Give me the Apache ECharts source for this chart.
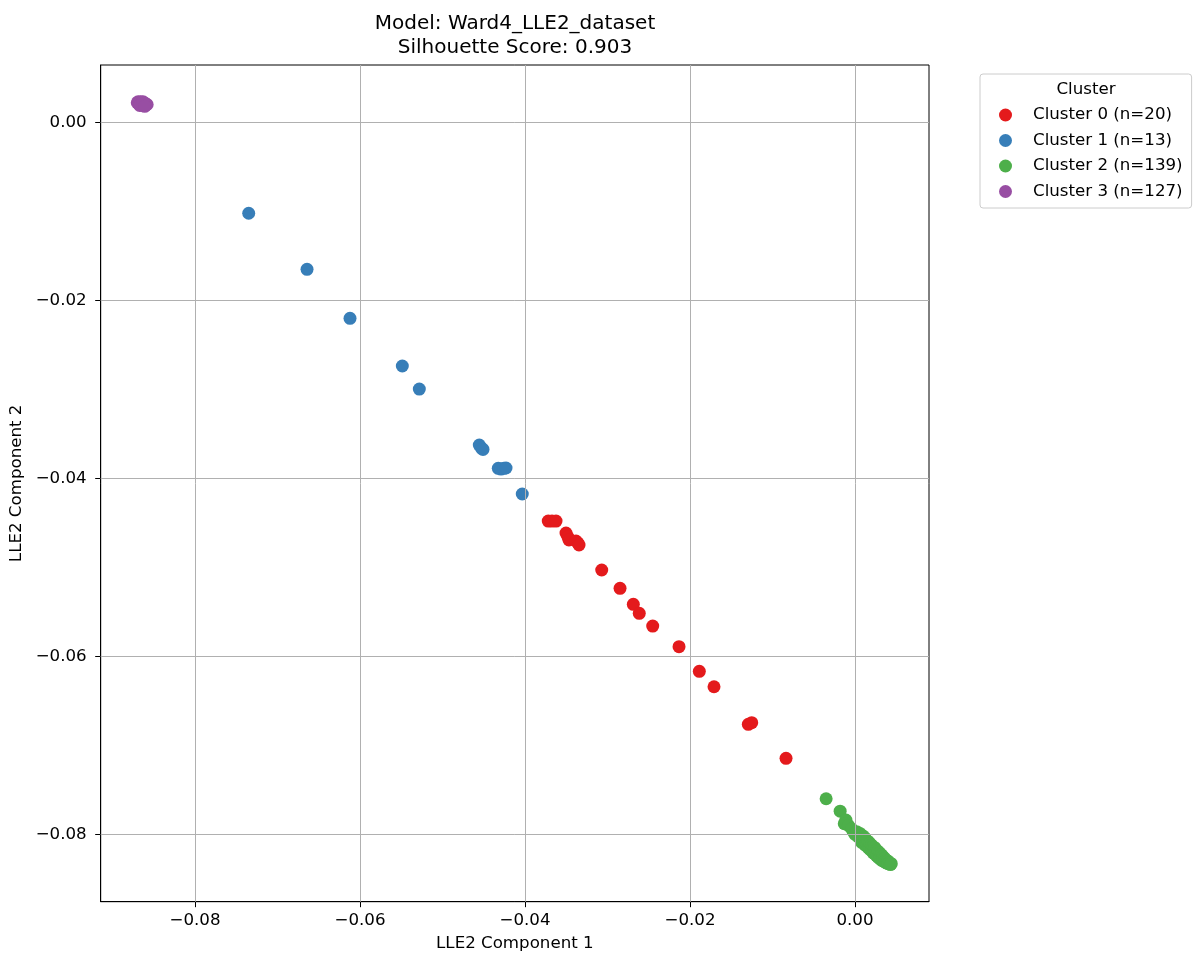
<!DOCTYPE html>
<html>
<head>
<meta charset="utf-8">
<script src="https://cdn.jsdelivr.net/npm/echarts@6/dist/echarts.min.js"></script>
<style>
html,body{margin:0;padding:0;background:#fff;}
#chart{width:1196px;height:954px;}
</style>
</head>
<body>
<div id="chart"></div>
<script>
var seriesNames = ['Cluster 0 (n=20)', 'Cluster 1 (n=13)', 'Cluster 2 (n=139)', 'Cluster 3 (n=127)'];
var seriesColors = ['#e41a1c', '#377eb8', '#4daf4a', '#984ea3'];
var xTicks = [-0.08, -0.06, -0.04, -0.02, 0.0];
var yTicks = [0.0, -0.02, -0.04, -0.06, -0.08];

var cluster0 = [
  [-0.03718,-0.04480],[-0.03673,-0.04480],[-0.03624,-0.04480],[-0.03503,-0.04615],
  [-0.03479,-0.04660],[-0.03467,-0.04693],[-0.03382,-0.04704],[-0.03358,-0.04727],
  [-0.03345,-0.04749],[-0.03070,-0.05030],[-0.02848,-0.05236],[-0.02687,-0.05416],
  [-0.02615,-0.05517],[-0.02452,-0.05660],[-0.02133,-0.05892],[-0.01887,-0.06169],
  [-0.01709,-0.06342],[-0.01293,-0.06764],[-0.01252,-0.06746],[-0.00836,-0.07146]
];
var cluster1 = [
  [-0.07349,-0.01022],[-0.06642,-0.01652],[-0.06121,-0.02202],[-0.05487,-0.02738],
  [-0.05281,-0.02997],[-0.04554,-0.03626],[-0.04525,-0.03663],[-0.04509,-0.03675],
  [-0.04324,-0.03888],[-0.04291,-0.03896],[-0.04255,-0.03888],[-0.04230,-0.03884],
  [-0.04033,-0.04176]
];
var cluster2 = [
  [-0.0035,-0.0760],[-0.0018,-0.0774],[-0.0011,-0.0784],[-0.0013,-0.0788],
  [-0.0008,-0.0790],[-0.0002,-0.0797],[-0.0004,-0.0794],[0.0000,-0.0800],[0.0002,-0.0797],
  [0.0004,-0.0803],[0.0006,-0.0799],[0.0007,-0.0805],[0.0008,-0.0809],
  [0.0010,-0.0802],[0.0010,-0.0809],[0.0012,-0.0804],[0.0012,-0.0812],
  [0.0014,-0.0807],[0.0014,-0.0813],[0.0016,-0.0808],[0.0016,-0.0815],
  [0.0018,-0.0810],[0.0018,-0.0817],[0.0020,-0.0812],[0.0020,-0.0818],
  [0.0022,-0.0814],[0.0022,-0.0821],[0.0024,-0.0815],[0.0024,-0.0822],
  [0.0026,-0.0818],[0.0026,-0.0824],[0.0028,-0.0819],[0.0028,-0.0826],
  [0.0030,-0.0821],[0.0030,-0.0827],[0.0032,-0.0823],[0.0032,-0.0829],
  [0.0034,-0.0825],[0.0034,-0.0830],[0.0036,-0.0827],[0.0036,-0.0831],
  [0.0038,-0.0829],[0.0038,-0.0832],[0.0040,-0.0830],[0.0040,-0.0833],
  [0.0042,-0.0832],[0.0043,-0.0834],[0.0044,-0.0833]
];
var cluster3 = [
  [-0.0870,0.0022],[-0.0869,0.0023],[-0.0868,0.0021],[-0.0867,0.0022],
  [-0.0866,0.0020],[-0.0866,0.0023],[-0.0865,0.0021],[-0.0864,0.0022],
  [-0.0864,0.0019],[-0.0863,0.0021],[-0.0862,0.0020],[-0.0862,0.0022],
  [-0.0861,0.0021],[-0.0860,0.0019],[-0.0860,0.0021],[-0.0859,0.0020],
  [-0.0858,0.0020],[-0.0867,0.0019],[-0.0863,0.0023],[-0.0861,0.0018]
];
var clusters = [cluster0, cluster1, cluster2, cluster3];

function fmt(v) {
  var s = Math.abs(v) < 1e-9 ? '0.00' : v.toFixed(2);
  return s.replace('-', '\u2212');
}

var FONT = 'DejaVu Sans';
var FS = 16.67;
var chart = echarts.init(document.getElementById('chart'), null, {renderer: 'canvas'});

var series = clusters.map(function (d, i) {
  return {
    name: seriesNames[i],
    type: 'scatter',
    data: d,
    symbol: 'circle',
    symbolSize: 13,
    z: 3,
    itemStyle: {color: seriesColors[i], opacity: 1},
    emphasis: {disabled: true}
  };
});

var gridLineStyle = {color: '#b0b0b0', width: 1, type: 'solid'};
var gridMarks = [];
xTicks.forEach(function (v) { gridMarks.push({xAxis: v}); });
yTicks.forEach(function (v) { gridMarks.push({yAxis: v}); });

series.unshift({
  name: 'grid',
  type: 'scatter',
  data: [],
  z: 1,
  silent: true,
  markLine: {
    silent: true,
    symbol: ['none', 'none'],
    label: {show: false},
    lineStyle: gridLineStyle,
    emphasis: {disabled: true},
    animation: false,
    data: gridMarks
  }
});

chart.setOption({
  animation: false,
  backgroundColor: '#fff',
  textStyle: {fontFamily: FONT},
  title: [{
    text: 'Model: Ward4_LLE2_dataset\nSilhouette Score: 0.903',
    left: 515,
    top: 12,
    padding: 0,
    textAlign: 'center',
    textStyle: {fontFamily: FONT, fontSize: 20, fontWeight: 'normal', color: '#000', lineHeight: 24}
  }, {
    text: 'Cluster',
    left: 1086,
    top: 80,
    padding: 0,
    textAlign: 'center',
    z: 10,
    textStyle: {fontFamily: FONT, fontSize: FS, fontWeight: 'normal', color: '#000', lineHeight: 20}
  }],
  legend: {
    data: seriesNames,
    orient: 'vertical',
    left: 980,
    top: 74,
    z: 4,
    icon: 'circle',
    itemWidth: 13,
    itemHeight: 13,
    itemGap: 8.5,
    padding: [32.5, 9, 8, 19],
    backgroundColor: '#fff',
    borderColor: '#cccccc',
    borderWidth: 1,
    borderRadius: 3,
    selectedMode: false,
    textStyle: {fontFamily: FONT, fontSize: FS, color: '#000', lineHeight: 17, padding: [0, 0, 0, 16]}
  },
  grid: {
    left: 100.7,
    right: 267,
    top: 65,
    bottom: 52.3,
    show: true,
    borderColor: '#000',
    borderWidth: 1,
    backgroundColor: 'transparent',
    containLabel: false,
    outerBoundsMode: 'none'
  },
  xAxis: {
    type: 'value',
    min: -0.09143,
    max: 0.00897,
    name: 'LLE2 Component 1',
    nameLocation: 'middle',
    nameGap: 33,
    nameTextStyle: {fontFamily: FONT, fontSize: FS, color: '#000'},
    axisLine: {show: true, onZero: false, lineStyle: {color: '#000', width: 1}},
    axisTick: {show: true, inside: false, length: 5.5, lineStyle: {color: '#000', width: 1}, customValues: xTicks},
    axisLabel: {show: true, margin: 10, fontFamily: FONT, fontSize: FS, color: '#000', customValues: xTicks, formatter: fmt},
    splitLine: {show: false}
  },
  yAxis: {
    type: 'value',
    min: -0.08757,
    max: 0.00644,
    name: 'LLE2 Component 2',
    nameLocation: 'middle',
    nameGap: 67,
    nameRotate: 90,
    nameTextStyle: {fontFamily: FONT, fontSize: FS, color: '#000'},
    axisLine: {show: true, onZero: false, lineStyle: {color: '#000', width: 1}},
    axisTick: {show: true, inside: false, length: 5.5, lineStyle: {color: '#000', width: 1}, customValues: yTicks},
    axisLabel: {show: true, margin: 14, fontFamily: FONT, fontSize: FS, color: '#000', customValues: yTicks, formatter: fmt},
    splitLine: {show: false}
  },
  series: series
});
</script>
</body>
</html>
